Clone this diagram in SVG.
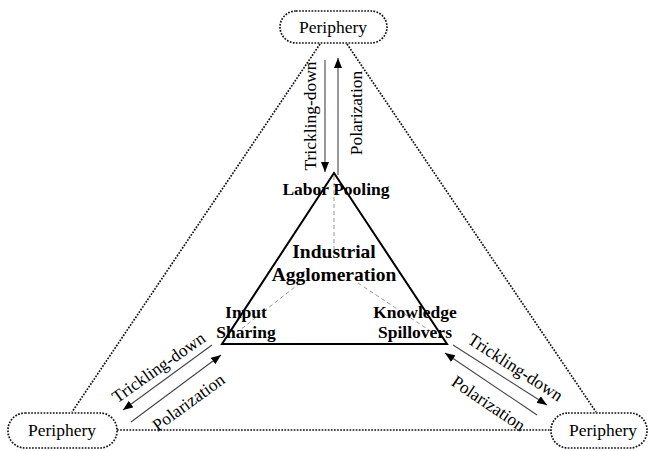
<svg xmlns="http://www.w3.org/2000/svg" width="656" height="451" viewBox="0 0 656 451">
<defs>
<marker id="ah" viewBox="0 0 10 8" refX="10" refY="4" markerWidth="10" markerHeight="8" markerUnits="userSpaceOnUse" orient="auto">
<path d="M0,0 L10,4 L0,8 Z" fill="#000"/>
</marker>
<style>
.pill{fill:#fff;stroke:#111;stroke-width:1.7;stroke-dasharray:1.7 1.4}
.dot{fill:none;stroke:#111;stroke-width:1.7;stroke-dasharray:1.7 1.4}
.arr{fill:none;stroke:#444;stroke-width:1.1;marker-end:url(#ah)}
.dash{fill:none;stroke:#999;stroke-width:1;stroke-dasharray:4 3}
.lbl{font-family:"Liberation Serif","Times New Roman",serif;font-size:17.5px;fill:#000}
.b{font-family:"Liberation Serif","Times New Roman",serif;font-weight:bold;fill:#000}
</style>
</defs>
<rect width="656" height="451" fill="#fff"/>
<g id="connectors">
<line class="dot" x1="320" y1="44" x2="72" y2="412"/>
<line class="dot" x1="347" y1="44" x2="596" y2="412"/>
<line class="dot" x1="117" y1="430" x2="551" y2="430"/>
<line class="dash" x1="334" y1="176" x2="334" y2="250"/>
<line class="dash" x1="300" y1="283" x2="240" y2="330"/>
<line class="dash" x1="358" y1="283" x2="432" y2="332"/>
<line class="arr" x1="325" y1="60" x2="325" y2="172"/>
<line class="arr" x1="338" y1="175" x2="338" y2="58"/>
<line class="arr" x1="212" y1="345" x2="123" y2="410"/>
<line class="arr" x1="131" y1="422" x2="221" y2="355"/>
<line class="arr" x1="453" y1="345" x2="547" y2="405"/>
<line class="arr" x1="537" y1="415" x2="445" y2="353"/>
<text class="lbl" text-anchor="middle" transform="translate(316,116) rotate(-90)">Trickling-down</text>
<text class="lbl" text-anchor="middle" transform="translate(362,113) rotate(-90)">Polarization</text>
<text class="lbl" text-anchor="middle" transform="translate(159,368) rotate(-35) translate(0,5)">Trickling-down</text>
<text class="lbl" text-anchor="middle" transform="translate(189,403) rotate(-36) translate(0,5)">Polarization</text>
<text class="lbl" text-anchor="middle" transform="translate(515,368) rotate(33) translate(0,5)">Trickling-down</text>
<text class="lbl" text-anchor="middle" transform="translate(488,404) rotate(34) translate(0,5)">Polarization</text>
</g>
<g id="triangle">
<path d="M334,173 L222,344 L447,344 Z" fill="none" stroke="#000" stroke-width="2" stroke-linejoin="miter"/>
</g>
<g id="labor-pooling">
<text class="b" x="336" y="195" font-size="17.5" text-anchor="middle">Labor Pooling</text>
</g>
<g id="industrial-agglomeration">
<text class="b" x="334" y="258" font-size="19.5" text-anchor="middle">Industrial</text>
<text class="b" x="334" y="281" font-size="19.5" text-anchor="middle">Agglomeration</text>
</g>
<g id="input-sharing">
<text class="b" x="246" y="318" font-size="17.5" text-anchor="middle">Input</text>
<text class="b" x="246" y="338" font-size="17.5" text-anchor="middle">Sharing</text>
</g>
<g id="knowledge-spillovers">
<text class="b" x="415" y="318" font-size="17.5" text-anchor="middle">Knowledge</text>
<text class="b" x="415" y="338" font-size="17.5" text-anchor="middle">Spillovers</text>
</g>
<g id="periphery-top">
<rect class="pill" x="280" y="11" width="107" height="32" rx="16"/>
<text class="lbl" x="333" y="33" text-anchor="middle">Periphery</text>
</g>
<g id="periphery-left">
<rect class="pill" x="8" y="413" width="109" height="35" rx="17"/>
<text class="lbl" x="62" y="436" text-anchor="middle">Periphery</text>
</g>
<g id="periphery-right">
<rect class="pill" x="551" y="413" width="96" height="35" rx="17"/>
<text class="lbl" x="603" y="436" text-anchor="middle">Periphery</text>
</g>
</svg>
